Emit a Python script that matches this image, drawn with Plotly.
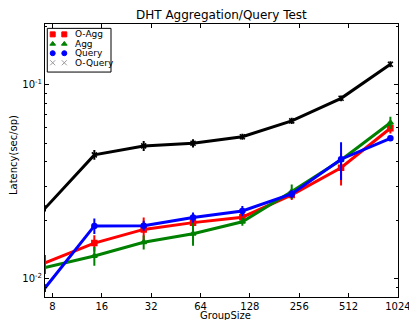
import math
import plotly.graph_objects as go

group_size = [7.2, 14.4, 28.8, 57.6, 115.2, 230.4, 460.8, 921.6]

o_agg = [0.0120, 0.0152, 0.0179, 0.0194, 0.0207, 0.0270, 0.0373, 0.0597]
o_agg_err = [0.00105, 0.0013, 0.0025, 0.00095, 0.0010, 0.0013, 0.0067, 0.0030]

agg = [0.01135, 0.01304, 0.01535, 0.0170, 0.0196, 0.0281, 0.0409, 0.0638]
agg_err = [0.0007, 0.0013, 0.0011, 0.0021, 0.0007, 0.0021, 0.0015, 0.0039]

query = [0.0089, 0.01866, 0.0187, 0.0206, 0.0223, 0.0273, 0.0413, 0.0530]
query_err = [0.0003, 0.0015, 0.0009, 0.0010, 0.0011, 0.0010, 0.0087, 0.0010]

o_query = [0.0230, 0.0435, 0.0484, 0.0499, 0.0540, 0.0652, 0.0853, 0.1280]
o_query_err = [0.0006, 0.0020, 0.0023, 0.0018, 0.0013, 0.0016, 0.0020, 0.0030]

x_ticks = [8, 16, 32, 64, 128, 256, 512, 1024]
x_tick_labels = ["8", "16", "32", "64", "128", "256", "512", "1024"]
y_ticks = [0.01, 0.1]
y_tick_labels = ["10<sup>-2</sup>", "10<sup>-1</sup>"]

series_names = ["O-Agg", "Agg", "Query", "O-Query"]
series_vals = [o_agg, agg, query, o_query]
series_errs = [o_agg_err, agg_err, query_err, o_query_err]
series_colors = ["#ff0000", "#008000", "#0000ff", "#000000"]
series_symbols = ["square", "triangle-up", "circle", "x-thin"]
legend_colors = ["#ff0000", "#008000", "#0000ff", "#999999"]

fig = go.Figure()
for name, vals, errs, color, sym in zip(series_names, series_vals, series_errs,
                                        series_colors, series_symbols):
    fig.add_trace(go.Scatter(
        x=group_size, y=vals, mode="lines+markers", name=name, showlegend=False,
        line=dict(color=color, width=3),
        marker=dict(symbol=sym, size=5, color=color, line=dict(color=color, width=1.5)),
        error_y=dict(type="data", array=errs, visible=True, color=color, thickness=2, width=1),
        cliponaxis=False,
    ))

# hand-drawn legend (matplotlib style: two markers per entry, no line)
leg_x0, leg_x1, leg_y0, leg_y1 = 0.0065, 0.187, 0.824, 0.984
leg_marker_x = [0.0218, 0.0547]
leg_rows_y = [0.962, 0.927, 0.893, 0.858]
leg_text_x = 0.080

fig.add_shape(type="rect", xref="paper", yref="paper", x0=leg_x0, x1=leg_x1,
              y0=leg_y0, y1=leg_y1, line=dict(color="black", width=1), fillcolor="white",
              layer="below")
for name, sym, lc, ry in zip(series_names, series_symbols, legend_colors, leg_rows_y):
    fig.add_trace(go.Scatter(
        x=leg_marker_x, y=[ry, ry], xaxis="x2", yaxis="y2", mode="markers",
        showlegend=False, hoverinfo="skip",
        marker=dict(symbol=sym, size=5, color=lc, line=dict(color=lc, width=1)),
    ))
    fig.add_annotation(x=leg_text_x, y=ry, xref="paper", yref="paper", text=name,
                       showarrow=False, xanchor="left", yanchor="middle",
                       font=dict(size=9, color="black"))

# axis titles and chart title
fig.add_annotation(x=0.51, y=-0.066, xref="paper", yref="paper", text="GroupSize",
                   showarrow=False, xanchor="center", yanchor="middle",
                   font=dict(size=10, color="black"))
fig.add_annotation(x=-0.0907, y=0.52, xref="paper", yref="paper", text="Latency(sec/op)",
                   showarrow=False, xanchor="center", yanchor="middle", textangle=-90,
                   font=dict(size=10, color="black"))
fig.add_annotation(x=0.5, y=1.032, xref="paper", yref="paper",
                   text="DHT Aggregation/Query Test",
                   showarrow=False, xanchor="center", yanchor="middle",
                   font=dict(size=12, color="black"))

axis_common = dict(
    showline=True, linecolor="black", linewidth=1, mirror="allticks",
    ticks="inside", ticklen=4, tickcolor="black", showgrid=False, zeroline=False,
    tickfont=dict(size=10, color="black"), automargin=False, ticklabeloverflow="allow",
)

fig.update_layout(
    width=409, height=320,
    margin=dict(l=45, r=11, t=24, b=23, autoexpand=False),
    paper_bgcolor="white", plot_bgcolor="white",
    showlegend=False,
    font=dict(family="DejaVu Sans", size=10, color="black"),
    xaxis=dict(type="log", range=[math.log10(7.2), math.log10(1024) + 0.0006],
               tickvals=x_ticks, ticktext=x_tick_labels, ticklabelstandoff=0, **axis_common),
    yaxis=dict(type="log", range=[-2.097, -0.6844], tickvals=y_ticks, ticktext=y_tick_labels,
               minor=dict(ticks="inside", ticklen=2, tickcolor="black", dtick="D1"),
               **axis_common),
    xaxis2=dict(overlaying="x", range=[0, 1], visible=False),
    yaxis2=dict(overlaying="y", range=[0, 1], visible=False),
)

fig.write_html(
    "out.html",
    config={"displayModeBar": False},
    post_script="document.body.style.margin='0';document.body.style.overflow='hidden';",
)
